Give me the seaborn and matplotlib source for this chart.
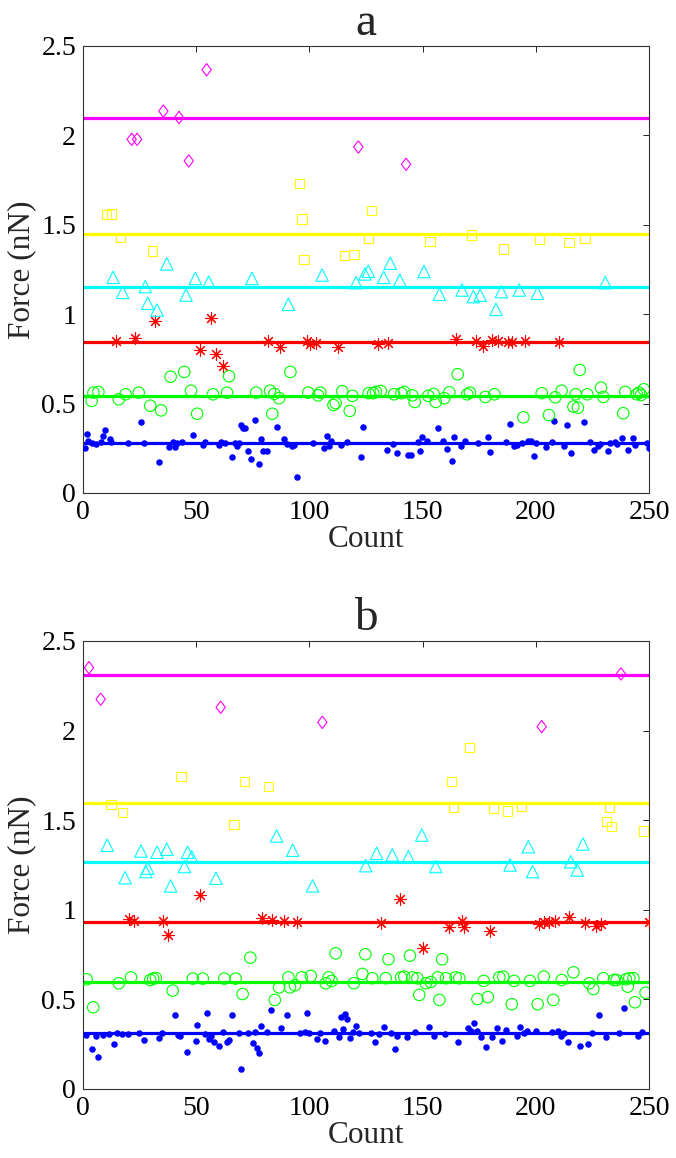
import numpy as np
import pandas as pd
import matplotlib
matplotlib.use('Agg')
import matplotlib.pyplot as plt
import seaborn as sns

# ---- panel a data ----
a_levels = [0.28, 0.543, 0.843, 1.154, 1.448, 2.095]

a_blue_x = [0.7, 1.9, 2.3, 4.0, 5.6, 8.0, 9.0, 9.9, 11.8, 12.2, 19.7, 25.8, 26.8, 33.7, 37.8, 39.6,
            40.8, 41.4, 43.6, 48.7, 52.9, 53.9, 60.1, 60.8, 62.9, 65.7, 67.0, 67.9, 68.8, 69.8, 70.5,
            71.4, 72.7, 74.1, 75.8, 77.6, 78.6, 79.7, 81.1, 85.7, 88.9, 90.0, 92.5, 93.3, 94.7, 101.7,
            106.6, 107.8, 108.7, 109.7, 114.0, 116.5, 122.6, 123.8, 134.1, 136.8, 138.8, 143.7, 144.7,
            148.1, 149.0, 149.9, 151.8, 156.9, 158.9, 160.6, 163.0, 164.0, 166.8, 168.6, 174.6, 178.9,
            179.9, 186.8, 188.7, 190.5, 191.8, 193.8, 196.4, 197.7, 199.1, 200.1, 204.4, 207.0, 208.1,
            212.6, 213.9, 215.7, 221.1, 223.9, 225.9, 227.6, 228.5, 231.8, 232.8, 235.1, 236.0, 237.9,
            240.6, 243.1, 244.0, 249.0, 250.0]
a_blue_y = [0.253, 0.328, 0.291, 0.278, 0.272, 0.283, 0.319, 0.352, 0.300, 0.285, 0.278, 0.399, 0.278,
            0.175, 0.259, 0.287, 0.259, 0.278, 0.283, 0.324, 0.270, 0.287, 0.270, 0.287, 0.278, 0.200,
            0.278, 0.263, 0.281, 0.380, 0.363, 0.363, 0.235, 0.192, 0.408, 0.164, 0.300, 0.235, 0.235,
            0.371, 0.300, 0.274, 0.263, 0.270, 0.091, 0.278, 0.250, 0.319, 0.263, 0.289, 0.270, 0.283,
            0.203, 0.371, 0.240, 0.274, 0.222, 0.211, 0.211, 0.287, 0.233, 0.311, 0.289, 0.365, 0.293,
            0.246, 0.181, 0.311, 0.263, 0.293, 0.278, 0.311, 0.228, 0.283, 0.384, 0.265, 0.270, 0.278,
            0.289, 0.289, 0.209, 0.281, 0.259, 0.287, 0.404, 0.263, 0.378, 0.222, 0.399, 0.283, 0.240,
            0.263, 0.274, 0.233, 0.278, 0.283, 0.274, 0.306, 0.240, 0.308, 0.268, 0.278, 0.250]

a_green_x = [3.8, 4.6, 6.8, 15.8, 18.8, 24.6, 29.7, 34.5, 38.7, 44.7, 47.7, 50.4, 57.4, 63.6, 64.5,
             76.5, 82.6, 84.5, 86.6, 83.6, 91.6, 99.5, 103.8, 104.8, 110.6, 111.6, 114.5, 117.8, 119.0,
             126.2, 128.2, 129.4, 131.5, 137.4, 140.6, 141.9, 145.4, 146.5, 152.5, 154.9, 155.8, 159.6,
             161.8, 165.5, 169.7, 170.9, 177.7, 181.7, 194.5, 202.6, 205.8, 208.6, 211.4, 216.6, 218.6,
             217.6, 219.4, 222.7, 228.8, 229.8, 238.6, 239.5, 244.6, 245.6, 246.5, 247.7]
a_green_y = [0.515, 0.561, 0.565, 0.524, 0.552, 0.561, 0.488, 0.462, 0.650, 0.677, 0.572, 0.443, 0.552,
             0.561, 0.653, 0.561, 0.572, 0.554, 0.530, 0.443, 0.677, 0.561, 0.546, 0.561, 0.492, 0.502,
             0.569, 0.459, 0.543, 0.558, 0.558, 0.565, 0.570, 0.552, 0.558, 0.565, 0.546, 0.509, 0.543,
             0.554, 0.509, 0.530, 0.563, 0.664, 0.552, 0.561, 0.537, 0.552, 0.423, 0.558, 0.436, 0.535,
             0.572, 0.483, 0.477, 0.552, 0.688, 0.552, 0.589, 0.537, 0.446, 0.565, 0.552, 0.561, 0.548,
             0.580]

a_red_x = [14.7, 22.8, 31.9, 56.5, 51.7, 58.6, 61.7, 81.9, 87.2, 98.8, 100.3, 102.8, 112.5, 130.4,
           134.8, 164.8, 173.6, 176.8, 180.5, 183.4, 187.6, 189.4, 195.4, 210.1]
a_red_y = [0.850, 0.865, 0.962, 0.980, 0.800, 0.777, 0.712, 0.850, 0.818, 0.850, 0.833, 0.837, 0.818,
           0.832, 0.837, 0.861, 0.850, 0.822, 0.856, 0.850, 0.846, 0.845, 0.850, 0.843]

a_cyan_x = [13.3, 17.5, 27.5, 28.6, 32.7, 37.0, 45.5, 49.6, 55.5, 74.6, 90.7, 105.6, 120.6, 124.5,
            126.0, 132.8, 135.7, 139.9, 150.6, 157.4, 167.4, 172.4, 175.4, 182.4, 184.8, 192.7, 200.7,
            230.7]
a_cyan_y = [1.206, 1.122, 1.154, 1.061, 1.023, 1.281, 1.107, 1.200, 1.180, 1.200, 1.055, 1.219, 1.176,
            1.225, 1.240, 1.206, 1.285, 1.190, 1.238, 1.111, 1.135, 1.098, 1.106, 1.027, 1.126, 1.135,
            1.117, 1.176]

a_yellow_x = [10.5, 12.5, 16.6, 30.8, 95.7, 96.7, 97.6, 115.4, 119.7, 127.5, 126.2, 153.3, 171.7,
              185.7, 201.5, 214.7, 221.7]
a_yellow_y = [1.557, 1.560, 1.428, 1.353, 1.732, 1.532, 1.305, 1.329, 1.335, 1.579, 1.422, 1.408,
              1.443, 1.365, 1.419, 1.400, 1.425]

a_magenta_x = [54.6, 35.5, 42.4, 21.5, 23.9, 46.7, 121.6, 142.7]
a_magenta_y = [2.367, 2.136, 2.100, 1.978, 1.978, 1.857, 1.935, 1.838]

# ---- panel b data ----
b_levels = [0.3125, 0.599, 0.930, 1.268, 1.594, 2.310]

b_blue_x = [1.3, 3.8, 5.7, 6.8, 9.0, 11.6, 13.7, 15.2, 17.4, 19.7, 24.6, 26.8, 33.7, 34.7, 40.8, 41.8,
            42.8, 45.9, 49.8, 50.5, 53.9, 54.8, 55.7, 56.5, 57.9, 60.1, 62.0, 63.6, 64.5, 65.7, 68.9,
            69.9, 72.7, 74.9, 76.0, 76.8, 77.9, 78.8, 81.1, 83.0, 87.6, 90.0, 96.0, 98.1, 99.0, 100.0,
            103.2, 104.7, 107.0, 111.0, 112.9, 113.8, 115.9, 116.6, 114.7, 118.1, 119.1, 120.7, 121.7,
            127.1, 128.8, 130.9, 133.1, 135.9, 137.8, 138.8, 142.9, 146.8, 152.8, 155.2, 159.9, 165.8,
            169.9, 171.2, 172.8, 173.9, 175.6, 178.0, 180.8, 182.7, 185.1, 186.8, 191.8, 193.0, 194.9,
            195.9, 200.1, 207.0, 210.0, 211.0, 212.6, 214.1, 219.5, 223.1, 225.0, 228.0, 231.0, 236.9,
            239.0, 245.1, 246.9]
b_blue_y = [0.301, 0.221, 0.297, 0.180, 0.301, 0.307, 0.251, 0.310, 0.305, 0.305, 0.310, 0.273, 0.286,
            0.310, 0.411, 0.301, 0.297, 0.205, 0.270, 0.357, 0.307, 0.422, 0.277, 0.297, 0.260, 0.240,
            0.320, 0.260, 0.276, 0.411, 0.310, 0.110, 0.310, 0.258, 0.320, 0.227, 0.199, 0.352, 0.316,
            0.441, 0.339, 0.411, 0.310, 0.316, 0.422, 0.310, 0.277, 0.310, 0.266, 0.322, 0.291, 0.400,
            0.419, 0.392, 0.333, 0.286, 0.320, 0.352, 0.310, 0.310, 0.264, 0.307, 0.344, 0.310, 0.221,
            0.297, 0.291, 0.320, 0.344, 0.297, 0.307, 0.264, 0.339, 0.325, 0.366, 0.326, 0.291, 0.233,
            0.291, 0.339, 0.266, 0.329, 0.297, 0.344, 0.310, 0.325, 0.325, 0.320, 0.325, 0.297, 0.310,
            0.262, 0.240, 0.251, 0.310, 0.411, 0.291, 0.310, 0.454, 0.297, 0.320]

b_green_x = [1.6, 4.5, 15.8, 21.2, 29.7, 31.0, 32.2, 39.6, 48.5, 52.9, 62.4, 67.4, 70.5, 73.9, 84.7,
             86.6, 90.7, 91.4, 93.6, 96.6, 100.6, 107.2, 108.5, 109.8, 111.6, 119.6, 123.4, 124.7,
             127.8, 133.7, 134.9, 140.5, 141.9, 144.4, 145.5, 147.7, 148.5, 151.4, 153.6, 156.7, 157.4,
             158.6, 160.3, 164.6, 166.2, 174.2, 178.8, 177.0, 183.9, 185.6, 189.4, 190.4, 197.4, 200.8,
             203.5, 207.7, 211.4, 216.6, 223.6, 225.4, 229.8, 234.5, 235.7, 239.8, 241.3, 243.1, 240.6,
             243.8, 248.5]
b_green_y = [0.612, 0.456, 0.590, 0.623, 0.608, 0.616, 0.619, 0.549, 0.616, 0.616, 0.616, 0.616, 0.530,
             0.733, 0.497, 0.567, 0.623, 0.567, 0.579, 0.623, 0.631, 0.590, 0.623, 0.603, 0.757, 0.590,
             0.642, 0.752, 0.618, 0.618, 0.724, 0.623, 0.627, 0.744, 0.623, 0.618, 0.525, 0.590, 0.597,
             0.623, 0.497, 0.724, 0.618, 0.623, 0.618, 0.502, 0.513, 0.603, 0.623, 0.627, 0.473, 0.603,
             0.603, 0.473, 0.627, 0.497, 0.608, 0.651, 0.590, 0.558, 0.618, 0.608, 0.608, 0.612, 0.618,
             0.618, 0.571, 0.484, 0.537]

b_red_x = [20.5, 22.5, 35.5, 37.7, 51.8, 79.2, 83.5, 88.8, 94.4, 131.5, 139.9, 150.3, 161.8, 167.5,
           168.4, 179.8, 201.5, 203.7, 205.8, 208.5, 214.8, 221.9, 226.4, 228.7, 249.9]
b_red_y = [0.947, 0.938, 0.938, 0.859, 1.084, 0.956, 0.943, 0.938, 0.930, 0.925, 1.059, 0.785, 0.906,
           0.938, 0.906, 0.882, 0.919, 0.930, 0.934, 0.938, 0.962, 0.925, 0.910, 0.919, 0.930]

b_cyan_x = [10.7, 18.6, 25.6, 27.7, 28.6, 32.7, 37.0, 38.7, 44.8, 46.2, 48.0, 58.7, 85.5, 92.6, 101.4,
            124.9, 129.7, 136.6, 143.7, 149.6, 155.8, 188.6, 196.7, 198.6, 215.4, 218.3, 220.8]
b_cyan_y = [1.360, 1.179, 1.328, 1.213, 1.232, 1.321, 1.338, 1.133, 1.241, 1.321, 1.296, 1.176, 1.412,
            1.332, 1.133, 1.246, 1.315, 1.306, 1.296, 1.417, 1.241, 1.250, 1.352, 1.213, 1.268, 1.222,
            1.367]

b_yellow_x = [12.4, 17.5, 43.3, 66.7, 71.4, 81.9, 162.7, 163.7, 170.8, 181.4, 187.6, 193.6, 231.3,
              232.5, 233.5, 247.5]
b_yellow_y = [1.589, 1.542, 1.743, 1.475, 1.717, 1.689, 1.717, 1.570, 1.907, 1.566, 1.551, 1.576,
              1.492, 1.570, 1.464, 1.440]

b_magenta_x = [2.65, 7.8, 60.8, 105.7, 202.6, 237.6]
b_magenta_y = [2.351, 2.175, 2.130, 2.046, 2.022, 2.316]

group_colors = ['#0000ff', '#00ff00', '#ff0000', '#00ffff', '#ffff00', '#ff00ff']

# MATLAB-like taller diamond
diamond = [(0, 1), (0.75, 0), (0, -1), (-0.75, 0), (0, 1)]

sns.set_style('white')
plt.rcParams['font.family'] = ['Liberation Serif', 'DejaVu Serif']
plt.rcParams['mathtext.fontset'] = 'stix'


def build_frame(xs, ys):
    frames = []
    for gi, (x, y) in enumerate(zip(xs, ys)):
        frames.append(pd.DataFrame({'count': x, 'force': y, 'group': gi}))
    return pd.concat(frames, ignore_index=True)


def draw_panel(ax, df, levels, title):
    for gi, lev in enumerate(levels):
        ax.axhline(lev, color=group_colors[gi], lw=2.3, zorder=1)

    sub = df[df['group'] == 0]
    sns.scatterplot(data=sub, x='count', y='force', ax=ax, color=group_colors[0], marker='o',
                    s=22, edgecolor=group_colors[0], linewidth=0, zorder=3)
    sub = df[df['group'] == 1]
    sns.scatterplot(data=sub, x='count', y='force', ax=ax, color=group_colors[1], marker='o',
                    s=68, facecolors='none', edgecolor=group_colors[1], linewidth=0.8, zorder=3)
    sub = df[df['group'] == 2]
    sns.scatterplot(data=sub, x='count', y='force', ax=ax, color=group_colors[2], marker=(8, 2, 0),
                    s=70, linewidth=0.8, zorder=3)
    sub = df[df['group'] == 3]
    sns.scatterplot(data=sub, x='count', y='force', ax=ax, color=group_colors[3], marker='^',
                    s=80, facecolors='none', edgecolor=group_colors[3], linewidth=0.8, zorder=3)
    sub = df[df['group'] == 4]
    sns.scatterplot(data=sub, x='count', y='force', ax=ax, color=group_colors[4], marker='s',
                    s=45, facecolors='none', edgecolor=group_colors[4], linewidth=0.8, zorder=3)
    sub = df[df['group'] == 5]
    sns.scatterplot(data=sub, x='count', y='force', ax=ax, color=group_colors[5], marker=diamond,
                    s=80, facecolors='none', edgecolor=group_colors[5], linewidth=0.8, zorder=3)

    ax.set_xlim(0, 250)
    ax.set_ylim(0, 2.5)
    ax.set_xticks([0, 50, 100, 150, 200, 250])
    ax.set_xticklabels(['0', '50', '100', '150', '200', '250'])
    ax.set_yticks([0, 0.5, 1, 1.5, 2, 2.5])
    ax.set_yticklabels(['0', '0.5', '1', '1.5', '2', '2.5'])
    ax.tick_params(direction='in', length=4.5, width=0.7, top=True, right=True,
                   labelsize=20, pad=5, colors='#222222', labelcolor='black')
    for sp in ax.spines.values():
        sp.set_visible(True)
        sp.set_color('#333333')
        sp.set_linewidth(0.8)
    ax.set_xlabel('Count', fontsize=22.5, labelpad=0)
    ax.set_ylabel('Force (nN)', fontsize=22.5, labelpad=4)
    ax.set_title(title, fontsize=34, pad=8)


fig = plt.figure(figsize=(6.76, 11.58), dpi=100)
ax_a = fig.add_axes([0.1228, 0.5743, 0.8373, 0.386])
ax_b = fig.add_axes([0.1228, 0.0596, 0.8373, 0.3869])

df_a = build_frame([a_blue_x, a_green_x, a_red_x, a_cyan_x, a_yellow_x, a_magenta_x],
                   [a_blue_y, a_green_y, a_red_y, a_cyan_y, a_yellow_y, a_magenta_y])
df_b = build_frame([b_blue_x, b_green_x, b_red_x, b_cyan_x, b_yellow_x, b_magenta_x],
                   [b_blue_y, b_green_y, b_red_y, b_cyan_y, b_yellow_y, b_magenta_y])

draw_panel(ax_a, df_a, a_levels, 'a')
draw_panel(ax_b, df_b, b_levels, 'b')

fig.savefig('out.png', dpi=100)
